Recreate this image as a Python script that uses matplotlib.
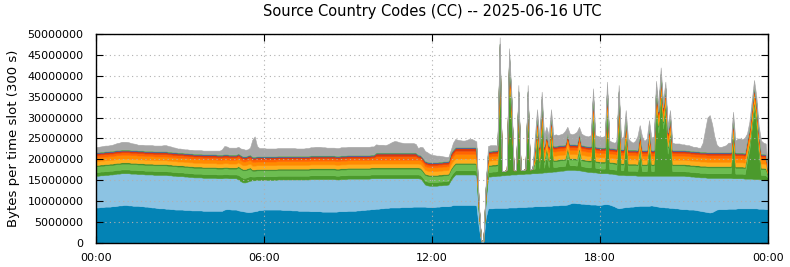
import numpy as np
import matplotlib
matplotlib.use("Agg")
import matplotlib.pyplot as plt
from matplotlib.ticker import FuncFormatter


def slots(text):
    # values are typed in units of 100 kB per 5-minute slot
    return np.array(text.split(), dtype=float) * 1e5


# one value per 5-minute slot, 00:00 .. 24:00 (289 slots)
dark_blue = slots("""
85 85 86 86 87 87 87 88 88 89 90 90
91 91 90 90 89 89 89 88 88 87 87 86
85 85 84 83 83 83 82 82 81 81 80 80
80 80 79 79 79 78 78 78 78 78 77 77
77 77 77 77 77 77 77 80 81 81 80 80
80 78 77 76 75 74 74 75 76 77 79 79
80 80 80 80 80 80 80 80 79 79 79 79
78 78 78 77 77 77 77 77 76 76 76 76
76 75 75 75 75 75 75 75 76 76 76 76
77 77 77 77 78 78 79 79 80 80 81 81
82 82 83 83 84 84 85 85 85 85 85 86
86 86 86 86 87 87 87 87 87 87 86 86
86 86 87 87 88 88 88 88 89 91 91 91
91 91 91 91 91 91 91 90 40 3 2 60
83 83 83 84 84 84 84 84 84 85 85 85
85 86 86 86 86 87 87 87 88 88 88 88
88 89 89 89 90 90 90 91 91 91 92 94
96 96 95 95 94 94 93 93 92 92 92 91
91 92 93 93 92 90 88 85 83 84 85 86
86 87 87 88 88 89 89 89 89 89 90 89
88 87 86 86 85 85 84 84 83 83 82 81
81 81 80 80 80 79 78 77 76 75 74 73
74 77 80 81 81 81 81 82 82 82 82 83
83 83 83 83 83 83 83 83 82 82 82 81
81
""")

light_blue = slots("""
76 76 76 76 76 76 77 76 77 77 76 77
76 76 77 76 77 77 76 77 77 77 77 78
79 78 79 80 80 80 81 80 81 80 81 80
80 80 80 80 79 80 79 79 79 79 79 79
79 79 79 79 78 78 78 76 75 74 75 75
75 74 71 69 70 73 75 75 74 74 72 72
71 71 71 71 71 71 72 72 73 73 73 73
74 74 74 75 75 75 75 75 77 77 77 77
77 78 78 78 78 78 78 77 76 77 77 77
77 77 77 77 76 76 75 75 74 74 74 74
73 73 72 72 71 71 70 70 70 70 70 69
69 69 69 69 68 68 68 67 61 53 52 51
51 51 50 51 50 51 51 52 61 67 73 73
73 73 73 73 73 73 73 73 32 2 2 40
76 76 77 76 77 77 78 78 79 78 79 79
79 79 79 79 80 79 79 80 79 79 80 80
81 80 81 81 81 81 82 82 82 83 83 81
79 79 79 79 79 78 78 77 78 77 77 77
76 75 74 74 74 76 77 79 80 79 78 76
76 75 75 74 73 72 72 72 72 72 71 72
73 74 75 75 76 76 77 77 78 78 79 80
80 79 80 79 79 79 80 80 81 82 82 83
82 79 76 75 75 75 75 74 74 73 73 72
72 72 71 71 71 71 70 70 71 70 70 70
69
""")

dark_green = slots("""
9 9 9 9 9 9 9 9 9 9 9 9
9 9 9 9 9 9 9 9 9 9 9 9
9 9 9 9 9 9 9 9 9 9 9 9
9 9 9 9 9 9 9 9 9 9 9 9
9 9 9 9 9 9 9 9 9 9 9 9
9 11 11 11 11 11 11 9 9 9 9 9
9 9 9 9 9 9 9 9 9 9 9 9
9 9 9 9 9 9 9 9 9 9 9 9
9 9 9 9 9 9 9 9 9 9 9 9
9 9 9 9 9 9 9 9 9 9 9 9
9 9 9 9 9 9 9 9 9 9 9 9
9 9 9 9 9 9 9 9 9 9 9 9
9 9 9 9 9 9 9 9 10 10 10 10
10 10 10 10 10 10 10 10 4 1 1 6
11 11 11 11 11 265 10 10 12 237 131 10
10 147 10 10 10 146 10 10 11 87 11 128
11 43 11 84 11 11 11 11 11 11 37 11
11 11 11 38 11 11 11 11 11 135 11 11
11 11 11 153 11 11 11 11 149 11 11 90
11 11 11 11 11 55 11 11 11 67 11 11
161 103 193 113 159 53 91 11 11 11 11 11
11 11 11 11 11 11 11 11 11 11 11 11
11 11 11 11 11 11 11 11 11 93 11 11
11 11 11 42 70 120 171 131 61 11 11 11
6
""")

light_green = slots("""
14 14 14 14 14 14 14 14 14 14 14 14
14 14 14 14 14 14 14 14 14 14 14 14
14 14 14 14 14 14 14 14 14 14 14 14
14 14 14 14 14 14 14 14 14 14 14 14
14 14 14 14 14 14 14 14 14 14 14 14
14 18 18 18 18 18 18 14 14 14 14 14
14 14 14 14 14 14 14 14 14 14 14 14
14 14 14 14 14 14 14 14 14 14 14 14
14 14 14 14 14 14 14 14 14 14 14 14
14 14 14 14 14 14 14 14 14 14 14 14
14 14 14 14 14 14 14 14 14 14 14 14
14 14 14 14 14 14 14 14 14 14 14 14
14 14 14 14 14 14 14 14 15 15 15 15
15 15 15 15 15 15 15 15 6 0 0 8
14 14 14 14 14 14 0 0 0 14 14 0
0 14 0 0 0 14 0 0 14 14 14 14
14 14 14 14 14 14 14 14 14 14 14 14
14 14 14 14 14 14 14 14 14 14 14 14
14 14 14 14 14 14 14 14 14 14 14 14
14 14 14 14 14 14 14 14 14 14 14 14
14 14 14 14 14 14 14 14 14 14 14 14
14 14 14 14 14 14 14 14 14 14 14 14
14 14 14 14 14 14 14 14 14 14 14 14
14 14 14 14 14 14 14 14 14 14 14 14
5
""")

thin_green = slots("""
3 3 3 3 3 3 3 3 3 3 3 3
3 3 3 3 3 3 3 3 3 3 3 3
3 3 3 3 3 3 3 3 3 3 3 3
3 3 3 3 3 3 3 3 3 3 3 3
3 3 3 3 3 3 3 3 3 3 3 3
3 3 3 3 3 3 3 3 3 3 3 3
3 3 3 3 3 3 3 3 3 3 3 3
3 3 3 3 3 3 3 3 3 3 3 3
3 3 3 3 3 3 3 3 3 3 3 3
3 3 3 3 3 3 3 3 3 3 3 3
3 3 3 3 3 3 3 3 3 3 3 3
3 3 3 3 3 3 3 3 3 3 3 3
3 3 3 3 3 3 3 3 3 3 3 3
3 3 3 3 3 3 3 3 1 0 0 2
3 3 3 3 3 3 0 0 0 3 3 0
0 3 0 0 0 3 0 0 3 3 3 3
3 3 3 3 3 3 3 3 3 3 3 3
3 3 3 3 3 3 3 3 3 3 3 3
3 3 3 3 3 3 3 3 3 3 3 3
3 3 3 3 3 3 3 3 3 3 3 3
3 3 3 3 3 3 3 3 3 3 3 3
3 3 3 3 3 3 3 3 3 3 3 3
3 3 3 3 3 3 3 3 3 3 3 3
3 3 3 3 3 3 3 3 3 3 3 3
1
""")

amber = slots("""
9 9 9 9 9 9 9 9 9 9 9 9
9 9 9 9 9 9 9 9 9 9 9 9
9 9 9 9 9 9 9 9 9 9 9 9
9 9 9 9 9 9 9 9 9 9 9 9
9 9 9 9 9 9 9 9 9 9 9 9
9 9 9 9 9 9 9 9 9 9 9 9
9 9 9 9 9 9 9 9 9 9 9 9
9 9 9 9 9 9 9 9 9 9 9 9
9 9 9 9 9 9 9 9 9 9 9 9
9 9 9 9 9 9 9 9 9 9 9 9
9 9 9 9 9 9 9 9 9 9 9 9
9 9 9 9 9 9 9 9 9 9 9 9
9 9 9 9 9 9 9 9 10 10 10 10
10 10 10 10 10 10 10 10 4 0 0 5
10 10 10 10 10 10 0 0 0 10 10 0
0 10 0 0 0 10 0 0 10 10 10 10
10 10 10 10 10 10 10 10 10 10 10 10
10 10 10 10 10 10 10 10 10 10 10 10
10 10 10 10 10 10 10 10 10 10 10 10
10 10 10 10 10 10 10 10 10 10 10 10
10 10 10 10 10 10 10 10 10 10 10 10
10 10 10 10 10 10 10 10 10 10 10 10
10 10 10 10 10 10 10 10 10 10 10 10
10 10 10 10 10 10 10 10 10 10 10 10
3
""")

orange = slots("""
9 9 9 9 9 9 9 9 9 9 9 9
9 9 9 9 9 9 9 9 9 9 9 9
9 9 9 9 9 9 9 9 9 9 9 9
9 9 9 9 9 9 9 9 9 9 9 9
9 9 9 9 9 9 9 9 9 9 9 9
9 9 9 9 9 9 9 9 9 9 9 9
9 9 9 9 9 9 9 9 9 9 9 9
9 9 9 9 9 9 9 9 9 9 9 9
9 9 9 9 9 9 9 9 9 9 9 9
9 9 9 9 9 9 9 9 9 9 9 9
9 9 9 9 9 9 9 9 9 9 9 9
9 9 9 9 9 9 9 9 9 9 9 9
9 9 9 9 9 9 9 9 11 11 11 11
11 11 11 11 11 11 11 11 4 0 0 5
10 10 10 10 10 10 0 0 0 10 10 0
0 10 0 0 0 10 0 0 10 10 10 10
10 10 10 10 10 10 10 10 10 10 10 10
10 10 10 10 10 10 10 10 10 10 10 10
10 10 10 10 10 10 10 10 10 10 10 10
10 10 10 10 10 10 10 10 10 10 10 10
10 10 10 10 10 10 10 10 10 10 10 10
10 10 10 10 10 10 10 10 10 10 10 10
10 10 10 10 10 10 10 10 10 10 10 10
10 10 10 10 10 10 10 10 10 10 10 10
2
""")

red_orange = slots("""
6 6 6 6 6 6 6 6 6 6 6 6
6 6 6 6 6 6 6 6 6 6 6 6
6 6 6 6 6 6 6 6 6 6 6 6
6 6 6 6 6 6 6 6 6 6 6 6
6 6 6 6 6 6 6 6 6 6 6 6
6 6 6 6 6 6 6 6 6 6 6 6
6 6 6 6 6 6 6 6 6 6 6 6
6 6 6 6 6 6 6 6 6 6 6 6
6 6 6 6 6 6 6 6 6 6 6 6
6 6 6 6 6 6 6 6 6 6 6 6
9 9 9 9 9 9 9 9 9 9 9 9
9 9 9 9 9 9 6 6 6 6 6 6
6 6 6 6 6 6 6 6 8 8 8 8
8 8 8 8 8 8 8 8 3 0 0 4
7 7 7 7 7 7 0 0 0 7 7 0
0 7 0 0 0 7 0 0 7 7 7 7
7 7 7 7 7 7 7 7 7 7 7 7
7 7 7 7 7 7 7 7 7 7 7 7
7 7 7 7 7 7 7 7 7 7 7 7
7 7 7 7 7 7 7 7 7 7 7 7
7 7 7 7 7 7 7 7 7 7 7 7
7 7 7 7 7 7 7 7 7 7 7 7
7 7 7 7 7 7 7 7 7 7 7 7
7 7 7 7 7 7 7 7 7 7 7 7
1
""")

red = slots("""
4 4 4 4 4 4 4 4 4 4 4 4
4 4 4 4 4 4 4 4 4 4 4 4
4 4 4 4 4 4 4 4 4 4 4 4
4 4 4 4 4 4 4 4 4 4 4 4
4 4 4 4 4 4 4 4 4 4 4 4
4 4 4 4 4 4 4 4 4 4 4 4
4 4 4 4 4 4 4 4 4 4 4 4
4 4 4 4 4 4 4 4 4 4 4 4
4 4 4 4 4 4 4 4 4 4 4 4
4 4 4 4 4 4 4 4 4 4 4 4
6 6 6 6 6 6 6 6 6 6 6 6
6 6 6 6 6 6 4 4 4 4 4 4
4 4 4 4 4 4 4 4 6 6 6 6
6 6 6 6 6 6 6 6 2 0 0 2
4 4 4 4 4 4 0 0 0 4 4 0
0 4 0 0 0 4 0 0 4 4 4 4
4 4 4 4 4 4 4 4 4 4 4 4
4 4 4 4 4 4 4 4 4 4 4 4
4 4 4 4 4 4 4 4 4 4 4 4
4 4 4 4 4 4 4 4 4 4 4 4
4 4 4 4 4 4 4 4 4 4 4 4
4 4 4 4 4 4 4 4 4 4 4 4
4 4 4 4 4 4 4 4 4 4 4 4
4 4 4 4 4 4 4 4 4 4 4 4
1
""")

navy = slots("""
2 2 2 2 2 2 2 2 2 2 2 2
2 2 2 2 2 2 2 2 2 2 2 2
2 2 2 2 2 2 2 2 2 2 2 2
2 2 2 2 2 2 2 2 2 2 2 2
2 2 2 2 2 2 2 2 2 2 2 2
2 2 2 2 2 2 2 2 2 2 2 2
2 2 2 2 2 2 2 2 2 2 2 2
2 2 2 2 2 2 2 2 2 2 2 2
2 2 2 2 2 2 2 2 2 2 2 2
2 2 2 2 2 2 2 2 2 2 2 2
2 2 2 2 2 2 2 2 2 2 2 2
2 2 2 2 2 2 2 2 2 2 2 2
2 2 2 2 2 2 2 2 2 2 2 2
2 2 2 2 2 2 2 2 1 0 0 1
2 2 2 2 2 2 0 0 0 2 2 0
0 2 0 0 0 2 0 0 2 2 2 2
2 2 2 2 2 2 2 2 2 2 2 2
2 2 2 2 2 2 2 2 2 2 2 2
2 2 2 2 2 2 2 2 2 2 2 2
2 2 2 2 2 2 2 2 2 2 2 2
2 2 2 2 2 2 2 2 2 2 2 2
2 2 2 2 2 2 2 2 2 2 2 2
2 2 2 2 2 2 2 2 2 2 2 2
2 2 2 2 2 2 2 2 2 2 2 2
0
""")

lime = slots("""
1 1 1 1 1 1 1 1 1 1 1 1
1 1 1 1 1 1 1 1 1 1 1 1
1 1 1 1 1 1 1 1 1 1 1 1
1 1 1 1 1 1 1 1 1 1 1 1
1 1 1 1 1 1 1 1 1 1 1 1
1 1 1 1 1 1 1 1 1 1 1 1
1 1 1 1 1 1 1 1 1 1 1 1
1 1 1 1 1 1 1 1 1 1 1 1
1 1 1 1 1 1 1 1 1 1 1 1
1 1 1 1 1 1 1 1 1 1 1 1
1 1 1 1 1 1 1 1 1 1 1 1
1 1 1 1 1 1 1 1 1 1 1 1
1 1 1 1 1 1 1 1 1 1 1 1
1 1 1 1 1 1 1 1 0 0 0 1
1 1 1 1 1 1 0 0 0 1 1 0
0 1 0 0 0 1 0 0 1 1 1 1
1 1 1 1 1 1 1 1 1 1 1 1
1 1 1 1 1 1 1 1 1 1 1 1
1 1 1 1 1 1 1 1 1 1 1 1
1 1 1 1 1 1 1 1 1 1 1 1
1 1 1 1 1 1 1 1 1 1 1 1
1 1 1 1 1 1 1 1 1 1 1 1
1 1 1 1 1 1 1 1 1 1 1 1
1 1 1 1 1 1 1 1 1 1 1 1
0
""")

grey = slots("""
12 12 12 13 13 13 13 14 15 16 17 18
18 18 17 16 15 14 13 13 13 13 13 13
13 13 13 13 13 14 14 13 12 11 10 9
9 8 8 8 8 8 8 8 8 8 8 8
8 8 8 8 9 9 12 19 18 16 16 16
16 15 15 17 15 14 16 40 48 24 19 19
19 18 18 18 18 18 18 18 18 18 18 18
18 18 17 17 17 17 18 18 19 19 20 20
20 19 19 18 18 18 18 18 18 19 19 19
19 19 19 19 19 19 19 19 19 19 19 19
19 18 18 18 17 19 22 25 27 26 24 23
22 22 22 22 22 20 15 19 24 23 22 19
17 16 15 14 13 11 10 9 6 16 19 17
16 15 15 17 19 19 16 14 8 0 0 6
11 13 12 12 10 15 0 0 0 15 15 0
0 15 0 0 0 15 0 0 21 15 25 15
27 15 26 15 25 27 24 25 27 32 15 25
23 25 30 15 27 24 23 23 26 15 27 26
25 25 27 15 17 14 13 16 15 25 30 15
26 20 16 20 32 15 32 21 27 15 29 32
15 15 15 15 15 15 15 17 15 15 15 13
13 12 12 11 9 10 8 9 21 51 82 88
67 37 17 12 12 14 16 22 22 15 28 33
33 31 36 15 15 15 15 15 15 31 26 25
1
""")

layers = [dark_blue, light_blue, dark_green, light_green, thin_green,
          amber, orange, red_orange, red, navy, lime, grey]
colors = ["#0383b5", "#8cc3e3", "#4b9a2c", "#6dbd51", "#3f8a2a",
          "#ffae1c", "#ff8a00", "#ff6400", "#dd3a0a", "#3a5fa8",
          "#62b046", "#a6a6a6"]

hours = np.arange(len(dark_blue)) / 12.0

fig = plt.figure(figsize=(7.9, 2.67), dpi=100)
ax = fig.add_axes([0.1215, 0.0899, 0.8507, 0.7828])

polys = ax.stackplot(hours, layers, colors=colors)
for p, c in zip(polys, colors):
    p.set_edgecolor(c)
    p.set_linewidth(0.4)

ax.set_xlim(0, 24)
ax.set_ylim(0, 5e7)
ax.set_xticks([0, 6, 12, 18, 24])
ax.set_xticklabels(["00:00", "06:00", "12:00", "18:00", "00:00"])
ax.set_yticks(np.arange(0, 5e7 + 1, 5e6))
ax.yaxis.set_major_formatter(FuncFormatter(lambda v, p: f"{int(v)}"))
ax.tick_params(direction="in", length=5, top=True, right=True, labelsize=8)
ax.tick_params(axis="y", pad=9)
ax.tick_params(axis="x", pad=7)
ax.grid(True, linestyle=(0, (1, 3)), color="#b0b0b0", linewidth=0.8)
for s in ax.spines.values():
    s.set_linewidth(1.0)

ax.set_ylabel("Bytes per time slot (300 s)", fontsize=9.5, labelpad=5)
ax.set_title("Source Country Codes (CC) -- 2025-06-16 UTC", fontsize=10.5, pad=13)

fig.savefig("out.png", dpi=100)
